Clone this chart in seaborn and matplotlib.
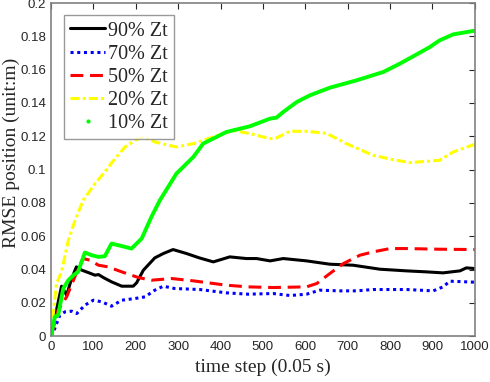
import numpy as np
import pandas as pd
import seaborn as sns
import matplotlib
matplotlib.use("Agg")
import matplotlib.pyplot as plt
from matplotlib.lines import Line2D

# values
labels = ["90% Zt", "70% Zt", "50% Zt", "20% Zt", "10% Zt"]

x90 = [0, 10, 25, 37, 48, 60, 72, 90, 104, 112, 125, 143, 167, 194, 202, 218, 245, 265, 288, 320, 350, 383, 422, 461,
       485, 517, 548, 603, 658, 713, 776, 839, 886, 925, 965, 980, 1000]
y90 = [0, 0.012, 0.030, 0.0246, 0.034, 0.0416, 0.0397, 0.038, 0.0366, 0.037, 0.035, 0.0326, 0.030, 0.030, 0.0320,
       0.0396, 0.0470, 0.0496, 0.052, 0.0496, 0.047, 0.0446, 0.0476, 0.0466,
       0.0466, 0.0452, 0.0466, 0.0452, 0.0432, 0.0426, 0.0402, 0.0392, 0.0386, 0.038, 0.0392, 0.041, 0.0406]

x70 = [0, 9, 21, 33, 49, 61, 80, 100, 120, 143, 167, 198, 222, 245, 265, 292, 351, 414, 465,
       524, 564, 603, 634, 682, 721, 760, 839, 902, 925, 941, 1000]
y70 = [0, 0.0046, 0.0126, 0.0146, 0.015, 0.0136, 0.0186, 0.0216, 0.0206, 0.018, 0.0216, 0.0226, 0.0236, 0.0276,
       0.030, 0.0286, 0.028, 0.026, 0.0252,
       0.0256, 0.0244, 0.0252, 0.0276, 0.0272, 0.0272, 0.028, 0.028, 0.0272, 0.0296, 0.033, 0.0324]

x50 = [0, 17, 37, 53, 68, 76, 92, 112, 135, 167, 206, 237, 285, 336, 414, 465, 524, 603, 627, 658, 690, 729, 760,
       800, 839, 917, 1000]
y50 = [0, 0.0156, 0.0236, 0.0336, 0.0426, 0.0466, 0.0456, 0.0426, 0.0416, 0.0386, 0.0352, 0.0336, 0.0346, 0.0332,
       0.0306, 0.0296, 0.0292, 0.0296, 0.0316, 0.0376, 0.0436, 0.0486, 0.0506,
       0.0526, 0.0526, 0.0522, 0.052]

x20 = [0, 13, 25, 41, 57, 76, 104, 127, 151, 175, 198, 218, 245, 277, 296, 336, 383, 430, 469, 517, 532, 564, 603,
       650, 697, 760, 807, 847, 917, 949, 1000]
y20 = [0, 0.0316, 0.0386, 0.0576, 0.0696, 0.0816, 0.0916, 0.0986, 0.1066, 0.1136, 0.1176, 0.1196, 0.1166, 0.1146,
       0.1136, 0.1156, 0.1196, 0.1236, 0.1216, 0.1186, 0.119, 0.123, 0.123,
       0.1218, 0.1156, 0.1086, 0.106, 0.1042, 0.1056, 0.1106, 0.1152]

x10 = [0, 9, 17, 29, 41, 53, 64, 80, 96, 112, 127, 143, 159, 190, 214, 237, 257, 296, 336, 359, 414, 469, 517, 532,
       548, 580, 611, 658, 721, 784, 823, 863, 894, 917, 949, 1000]
y10 = [0, 0.0116, 0.0126, 0.0286, 0.0336, 0.0366, 0.0386, 0.0502, 0.0486, 0.0476, 0.048, 0.0556, 0.0546, 0.0526,
       0.0586, 0.0716, 0.0816, 0.0976, 0.1076, 0.1156, 0.1226, 0.126, 0.1306, 0.1312,
       0.1346, 0.1406, 0.1446, 0.1492, 0.1536, 0.1586, 0.1636, 0.1692, 0.1736, 0.1776, 0.1812, 0.1834]

xticks = [0, 100, 200, 300, 400, 500, 600, 700, 800, 900, 1000]
yticks = [0, 0.02, 0.04, 0.06, 0.08, 0.1, 0.12, 0.14, 0.16, 0.18, 0.2]
ytick_labels = ["0", "0.02", "0.04", "0.06", "0.08", "0.1", "0.12", "0.14", "0.16", "0.18", "0.2"]

sns.set_style("white")
plt.rcParams['font.family'] = ['Liberation Sans', 'DejaVu Sans']

fig = plt.figure(figsize=(4.9, 3.82), dpi=100)
ax = fig.add_axes([0.104, 0.12, 0.865, 0.872])

sns.lineplot(x=x90, y=y90, ax=ax, color='black', lw=2.2, label=labels[0])
sns.lineplot(x=x70, y=y70, ax=ax, color='#0000ff', lw=2.2, linestyle=(0, (1, 1.2)), label=labels[1])
sns.lineplot(x=x50, y=y50, ax=ax, color='#ff0000', lw=2.2, linestyle=(0, (4.2, 2.2)), label=labels[2])
sns.lineplot(x=x20, y=y20, ax=ax, color='#ffff00', lw=2.2, linestyle=(0, (3, 1, 1, 1)), label=labels[3])
sns.lineplot(x=x10, y=y10, ax=ax, color='#00ff00', lw=2.8, label=labels[4])

ax.set_xlim(0, 1000)
ax.set_ylim(0, 0.2)
ax.set_xticks(xticks)
ax.set_yticks(yticks)
ax.set_yticklabels(ytick_labels)
ax.tick_params(direction='in', top=True, right=True, length=4, width=0.8,
               labelsize=9.5, color='#262626', labelcolor='#262626')
for s in ax.spines.values():
    s.set_color('#808080')
    s.set_linewidth(1.2)

ax.set_xlabel("time step (0.05 s)", family='Liberation Serif', fontsize=14, color='#262626', labelpad=4)
ax.set_ylabel("RMSE position (unit:m)", family='Liberation Serif', fontsize=14, color='#262626')
ax.yaxis.set_label_coords(-0.072, 0.55)

handles, labs = ax.get_legend_handles_labels()
handles[-1] = Line2D([], [], color='#00ff00', marker='.', markersize=4, linestyle='none')
leg = ax.legend(handles, labs, loc='upper left', bbox_to_anchor=(0.031, 0.963),
                prop={'family': 'Liberation Serif', 'size': 14.5},
                handlelength=1.75, handletextpad=0.12, labelspacing=0.2,
                borderpad=0.3, borderaxespad=0, frameon=True, fancybox=False)
leg.get_frame().set_edgecolor('#808080')
leg.get_frame().set_linewidth(1.0)

fig.savefig("out.png", dpi=100)
